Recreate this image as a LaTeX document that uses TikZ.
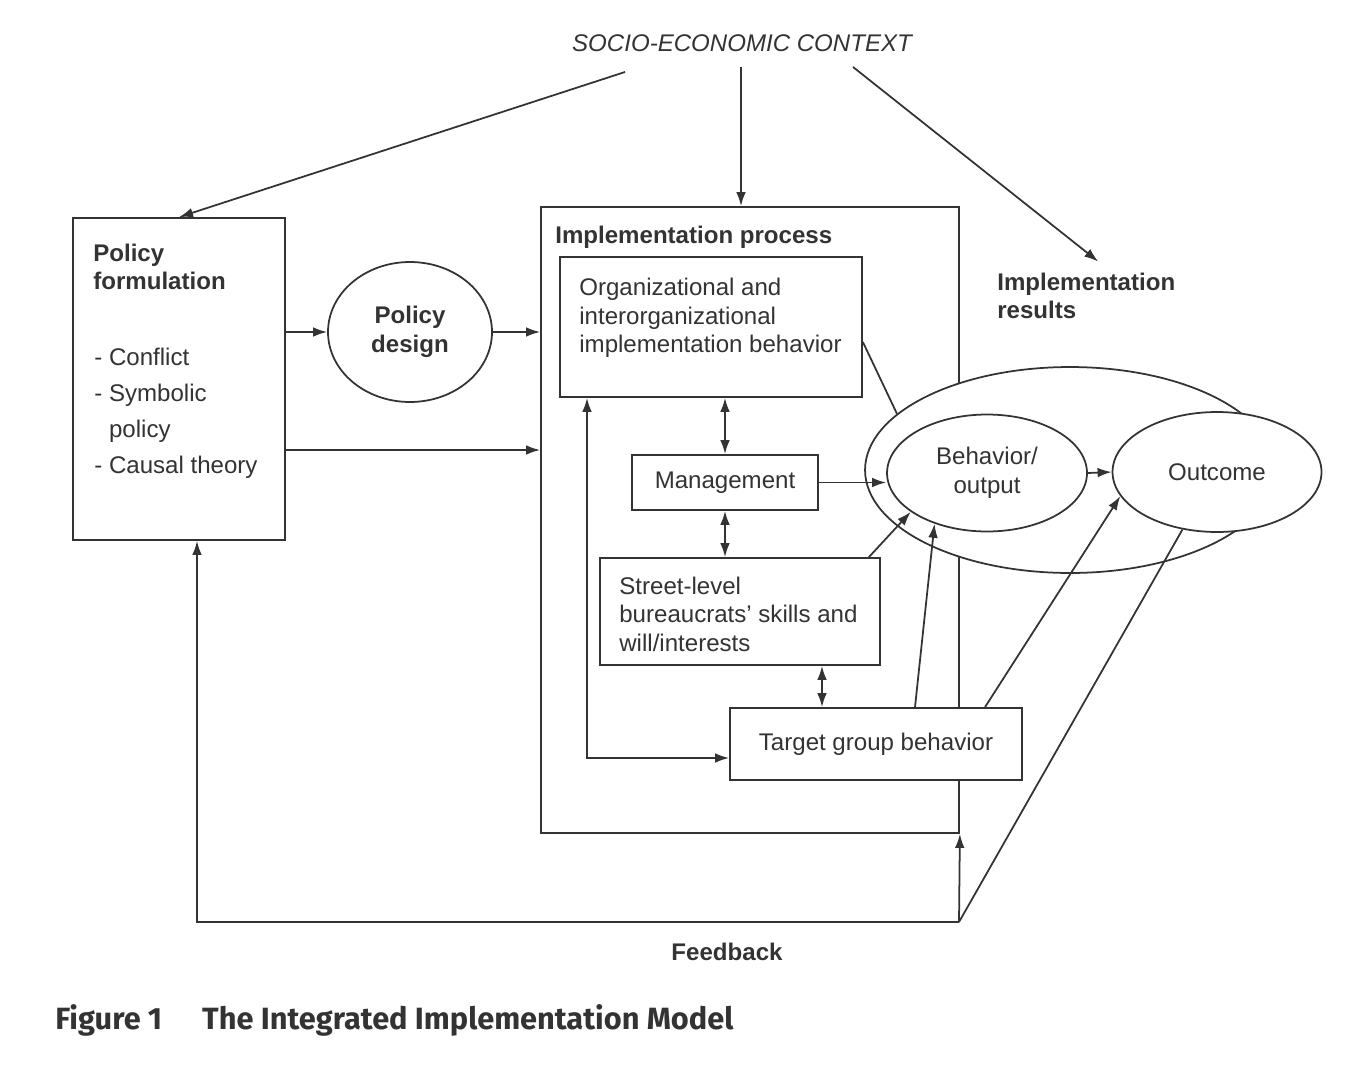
\documentclass[tikz,border=0pt]{standalone}
\usepackage{fontspec}
\setmainfont{Liberation Sans}
\newfontfamily\captionfont{Fira Sans}
\usepackage{xcolor}
\usepackage{tikz}
\usetikzlibrary{arrows.meta,positioning,shapes.geometric,fit,calc}

\definecolor{ink}{HTML}{333333}
\newcommand{\diagfont}{\fontsize{13.7}{16.2}\selectfont}

\begin{document}
\begin{tikzpicture}[
  x=0.02cm, y=-0.02cm,
  font=\diagfont,
  every node/.style={text=ink},
  boxframe/.style={draw=ink, line width=1pt, fill=white, inner sep=0pt},
  oval/.style={ellipse, draw=ink, line width=1pt, fill=white, inner sep=0pt, align=center},
  txt/.style={inner sep=0pt, align=left, anchor=west},
  flow/.style={-{Latex[length=8pt,width=5.5pt]}, line width=1pt, ink},
  twoway/.style={{Latex[length=8pt,width=5.5pt]}-{Latex[length=8pt,width=5.5pt]}, line width=1pt, ink},
  link/.style={line width=1pt, ink}
]
\useasboundingbox (0,0) rectangle (1368,1068);

% context on top
\node (context) at (742,43) {\itshape SOCIO-ECONOMIC CONTEXT};
\coordinate (ctxleft) at (625,72);
\coordinate (ctxmid) at (741,67);
\coordinate (ctxright) at (853,67);

% policy formulation and design
\node[boxframe, fit={(73,218) (285,540)}] (polform) {};
\node[txt, font=\diagfont\bfseries] (polformtitle) at (93,267) {Policy\\formulation};
\node[txt, font=\fontsize{13.7}{20.5}\selectfont] (polformlist) at (94,413) {- Conflict\\- Symbolic\\\phantom{- }policy\\- Causal theory};
\node[oval, minimum width=3.28cm, minimum height=2.8cm, font=\diagfont\bfseries] (design) at (410,332) {Policy\\design};

% implementation process
\node[boxframe, fit={(541,207) (959,833)}] (impl) {};
\node[oval, minimum width=8.2cm, minimum height=4.12cm] (bigoval) at (1070,470) {};
\node[oval, minimum width=4.18cm, minimum height=2.4cm] (outcome) at (1217,472) {Outcome};
\node[oval, minimum width=4.0cm, minimum height=2.34cm] (behavior) at (987,473) {Behavior/\\output};

\node[txt, font=\diagfont\bfseries] (impltitle) at (555,237) {Implementation process};
\node[boxframe, fit={(560,257) (862,397)}] (org) {};
\node[txt] (orgtext) at (579,318) {Organizational and\\interorganizational\\implementation behavior};
\node[boxframe, fit={(632,455) (818,510)}] (mgmt) {};
\node (mgmttext) at (mgmt.center) {Management};
\node[boxframe, fit={(600,558) (880,665)}] (street) {};
\node[txt] (streettext) at (619,614) {Street-level\\bureaucrats' skills and\\will/interests};
\node[boxframe, fit={(730,708) (1022,780)}] (target) {};
\node (targettext) at (target.center) {Target group behavior};

\node[txt, font=\diagfont\bfseries] (resultslabel) at (997,296) {Implementation\\results};
\node[font=\diagfont\bfseries] (feedback) at (727,952) {Feedback};
\node[anchor=west, inner sep=0pt, font=\captionfont\bfseries\fontsize{17.5}{20}\selectfont] (caption) at (55,1020) {Figure 1\hspace{1.3em}The Integrated Implementation Model};

% arrows
\draw[flow] (ctxleft) -- (polform.north);
\draw[flow] (ctxmid) -- (ctxmid |- impl.north);
\draw[flow] (ctxright) -- ($(resultslabel.north)+(12,-11)$);

\draw[flow] (polform.east |- design.west) -- (design.west);
\draw[flow] (design.east) -- (design.east -| impl.west);
\draw[flow] (polform.east |- 0,450) -- (impl.west |- 0,450);

\draw[link] (org.east |- 0,342) -- (bigoval.162);
\draw[twoway] (mgmt.north) -- (mgmt.north |- org.south);
\draw[twoway] (mgmt.south) -- (mgmt.south |- street.north);
\draw[twoway] (target.north -| 822,0) -- (street.south -| 822,0);
\draw[twoway] (org.south -| 587,0) |- (target.west |- 0,758);

\draw[flow] (mgmt.east) -- (mgmt.east -| behavior.west);
\draw[flow] ($(street.north east)+(-12,0)$) -- (behavior.207);
\draw[flow] (target.north -| 915,0) -- (behavior.224);
\draw[flow] (target.north -| 985,0) -- (outcome.194);
\draw[flow] (behavior.east) -- (outcome.west);

% feedback loop
\coordinate (fbcorner) at (959,922);
\draw[link] (outcome.239) -- (fbcorner);
\draw[flow] (fbcorner) -- (impl.south east);
\draw[flow] (fbcorner) -| (polform.south -| 197,0);

\end{tikzpicture}
\end{document}
